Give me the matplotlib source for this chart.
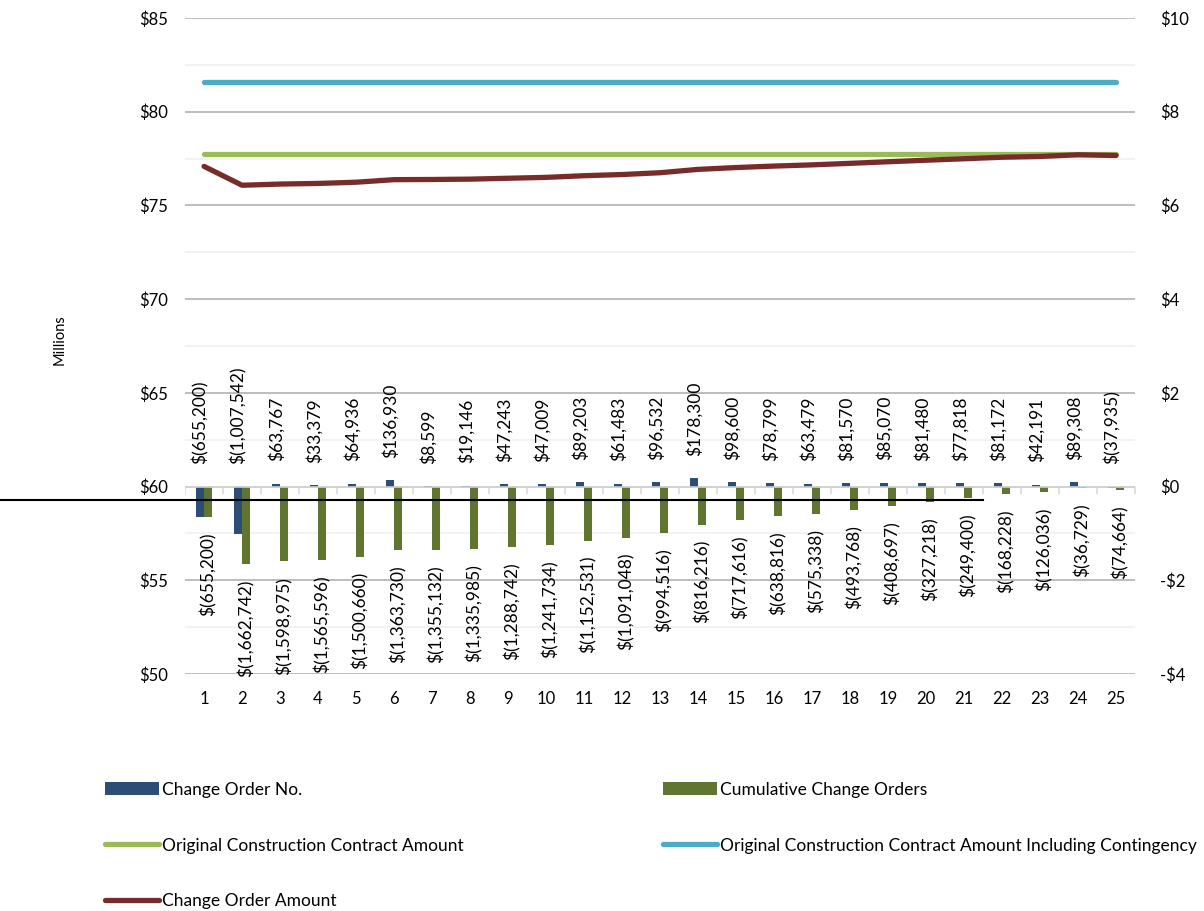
import matplotlib

matplotlib.use("Agg")
import matplotlib.pyplot as plt
import matplotlib.markers as mmarkers
import numpy as np

plt.rcParams["font.family"] = ["Lato", "DejaVu Sans"]

# Change order data (dollars), 25 change orders
order_no = list(range(1, 26))
change_orders = [
    -655200, -1007542, 63767, 33379, 64936, 136930, 8599, 19146, 47243, 47009,
    89203, 61483, 96532, 178300, 98600, 78799, 63479, 81570, 85070, 81480,
    77818, 81172, 42191, 89308, -37935,
]
cumulative = [
    -655200, -1662742, -1598975, -1565596, -1500660, -1363730, -1355132,
    -1335985, -1288742, -1241734, -1152531, -1091048, -994516, -816216,
    -717616, -638816, -575338, -493768, -408697, -327218, -249400, -168228,
    -126036, -36729, -74664,
]
# Contract amounts in millions
original_amount = [77.74] * 25
contingency_amount = [81.60] * 25
change_order_amount = [
    77.085, 76.077, 76.141, 76.174, 76.239, 76.376, 76.385, 76.404, 76.451,
    76.498, 76.587, 76.649, 76.746, 76.924, 77.022, 77.101, 77.165, 77.246,
    77.331, 77.413, 77.491, 77.572, 77.614, 77.703, 77.665,
]

BLUE = "#2C4D75"
OLIVE = "#5F7530"
LIGHT_GREEN = "#9BBB59"
CYAN = "#4BACC6"
DARK_RED = "#772C2A"


def money(v):
    s = f"{abs(v):,.0f}"
    return f"$({s})" if v < 0 else f"${s}"


fig = plt.figure(figsize=(12.04, 9.11), dpi=100)
ax = fig.add_axes([0.1537, 0.2602, 0.789, 0.72])
ax2 = ax.twinx()

x = np.arange(len(order_no))

# left axis: contract amounts (millions)
ax.set_ylim(50, 85)
ax.set_xlim(-0.5, 24.5)
ax.set_yticks(np.arange(50, 86, 5))
ax.set_yticklabels([f"${v}" for v in range(50, 86, 5)])
ax.set_yticks(np.arange(52.5, 85, 5), minor=True)
ax.grid(axis="y", which="major", color="#ABABAB", lw=1.1)
ax.grid(axis="y", which="minor", color="#EFEFEF", lw=1.1)
ax.set_axisbelow(True)
ax.tick_params(axis="y", which="both", length=0, labelsize=12, pad=12)
ax.set_xticks(x)
ax.set_xticklabels([str(n) for n in order_no])
ax.tick_params(axis="x", length=0, labelsize=12, pad=12)
ax.set_ylabel("Millions", fontsize=10.5)
ax.yaxis.set_label_coords(-0.125, 0.51)
for sp in ax.spines.values():
    sp.set_visible(False)

ax.plot(x, contingency_amount, color=CYAN, lw=3.8, solid_capstyle="round",
        label="Original Construction Contract Amount Including Contingency")
ax.plot(x, original_amount, color=LIGHT_GREEN, lw=3.8, solid_capstyle="round",
        label="Original Construction Contract Amount")
ax.plot(x, change_order_amount, color=DARK_RED, lw=3.8, solid_capstyle="round",
        label="Change Order Amount")

# right axis: change orders (millions)
co_m = np.array(change_orders) / 1e6
cum_m = np.array(cumulative) / 1e6
ax2.set_ylim(-4, 10)
ax2.set_yticks(np.arange(-4, 11, 2))
ax2.set_yticklabels([f"-${-v}" if v < 0 else f"${v}" for v in range(-4, 11, 2)])
ax2.tick_params(axis="y", length=0, labelsize=12, pad=18)
for sp in ax2.spines.values():
    sp.set_visible(False)

w = 0.21
ax2.bar(x - w / 2, co_m, width=w, color=BLUE, label="Change Order No.")
ax2.bar(x + w / 2, cum_m, width=w, color=OLIVE, label="Cumulative Change Orders")

# category axis along zero with boundary ticks
ax2.axhline(0, color="#D9D9D9", lw=1.1, zorder=3)
bounds = np.arange(-0.5, 25, 1)
ax2.plot(bounds, np.zeros_like(bounds), ls="none", marker=mmarkers.TICKDOWN,
         ms=5, mew=1.1, color="#D9D9D9", zorder=3)

for xi, v in zip(x, co_m):
    ax2.annotate(money(v * 1e6), (xi - w / 2, max(v, 0)), xytext=(0, 16),
                 textcoords="offset points", rotation=90, ha="center",
                 va="bottom", fontsize=12.5)
for xi, v in zip(x, cum_m):
    ax2.annotate(money(v * 1e6), (xi + w / 2, v), xytext=(0, -11),
                 textcoords="offset points", rotation=90, ha="center",
                 va="top", fontsize=12.5)

ax2.plot([-5.4, 20.5], [-0.28, -0.28], color="black", lw=1.5, clip_on=False)

handles = {}
for a in (ax, ax2):
    h, l = a.get_legend_handles_labels()
    handles.update(dict(zip(l, h)))

col1 = ["Change Order No.", "Original Construction Contract Amount", "Change Order Amount"]
col2 = ["Cumulative Change Orders",
        "Original Construction Contract Amount Including Contingency"]
kw = dict(loc="upper left", frameon=False, fontsize=12.5, borderpad=0,
          borderaxespad=0, handlelength=3.1, handletextpad=0.2,
          labelspacing=2.3)
fig.legend([handles[k] for k in col1], col1, bbox_to_anchor=(0.0872, 0.142), **kw)
fig.legend([handles[k] for k in col2], col2, bbox_to_anchor=(0.5507, 0.142), **kw)

fig.savefig("out.png", dpi=100)
